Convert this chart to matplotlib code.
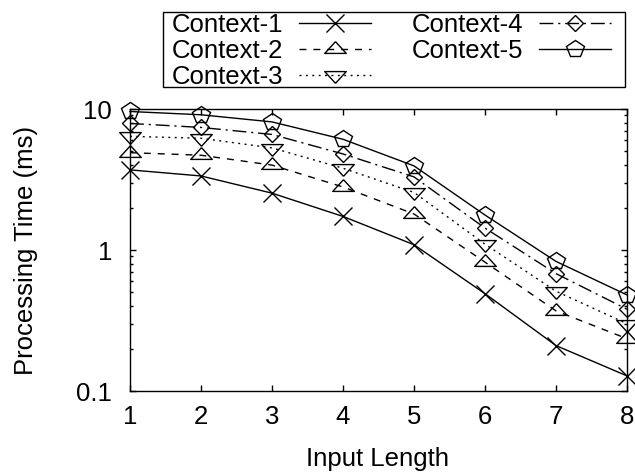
#=====================
# Imports
#=====================
import matplotlib
matplotlib.use('Agg')
import matplotlib.pyplot as plt
from matplotlib.patches import Rectangle

#=====================
# Data
#=====================
input_length = [1, 2, 3, 4, 5, 6, 7, 8]
context_1 = [3.7, 3.35, 2.53, 1.73, 1.09, 0.49, 0.21, 0.128]
context_2 = [4.9, 4.7, 4.0, 2.8, 1.8, 0.82, 0.37, 0.235]
context_3 = [6.4, 6.2, 5.3, 3.8, 2.56, 1.1, 0.51, 0.30]
context_4 = [7.9, 7.4, 6.6, 4.8, 3.3, 1.43, 0.68, 0.38]
context_5 = [9.6, 9.1, 8.1, 6.1, 3.95, 1.77, 0.83, 0.48]
labels = ['Context-1', 'Context-2', 'Context-3', 'Context-4', 'Context-5']
y_ticks = [0.1, 1, 10]
y_tick_labels = ['0.1', '1', '10']

#=====================
# Style
#=====================
plt.rcParams['font.family'] = ['Liberation Sans', 'DejaVu Sans']
plt.rcParams['font.size'] = 18.5

# gnuplot style triangles, centred on the centroid
tri_up = [(0, 0.727), (-1, -0.364), (1, -0.364), (0, 0.727)]
tri_down = [(0, -0.727), (-1, 0.364), (1, 0.364), (0, -0.727)]

styles = [
    dict(marker='x', ms=13, ls='-'),
    dict(marker=tri_up, ms=15.5, dashes=(5, 5)),
    dict(marker=tri_down, ms=15.5, dashes=(1.4, 3.2)),
    dict(marker='D', ms=8, dashes=(10, 3.5, 1.5, 3.5)),
    dict(marker='p', ms=13, ls='-'),
]

#=====================
# Plot
#=====================
fig = plt.figure(figsize=(6.35, 4.73), dpi=100)
ax = fig.add_axes([130 / 635, 1 - 391 / 473, 497 / 635, 282 / 473])

series = [context_1, context_2, context_3, context_4, context_5]
for values, label, st in zip(series, labels, styles):
    ax.plot(input_length, values, color='black', lw=1.0, mfc='none',
            mec='black', mew=1.0, label=label, clip_on=False, **st)

ax.set_yscale('log')
ax.set_xlim(1, 8)
ax.set_ylim(0.1, 10)
ax.set_xticks(input_length)
ax.set_yticks(y_ticks)
ax.set_yticklabels(y_tick_labels)
ax.tick_params(which='both', direction='in', top=True, right=True, width=1)
ax.tick_params(which='major', length=4.5)
ax.tick_params(which='minor', length=2.2)
ax.tick_params(axis='x', pad=10)
ax.tick_params(axis='y', pad=13)
for sp in ax.spines.values():
    sp.set_linewidth(1.0)

fig.text(26 / 635, 1 - 250 / 473, 'Processing Time (ms)', rotation=90,
         ha='center', va='center')
fig.text(378 / 635, 1 - 466 / 473, 'Input Length', ha='center', va='baseline')

#=====================
# Legend
#=====================
fig.legend(loc='upper left', bbox_to_anchor=(172 / 635, 1 - 13 / 473),
           ncol=2, frameon=False, markerfirst=False, numpoints=1,
           borderpad=0, borderaxespad=0, handlelength=2.8,
           handletextpad=0.6, columnspacing=1.6, labelspacing=0.08)
fig.patches.append(Rectangle((163 / 635, 1 - 87 / 473), 462 / 635, 75 / 473,
                             transform=fig.transFigure, fill=False,
                             edgecolor='black', lw=1.0))

plt.savefig('out.png', dpi=100)
